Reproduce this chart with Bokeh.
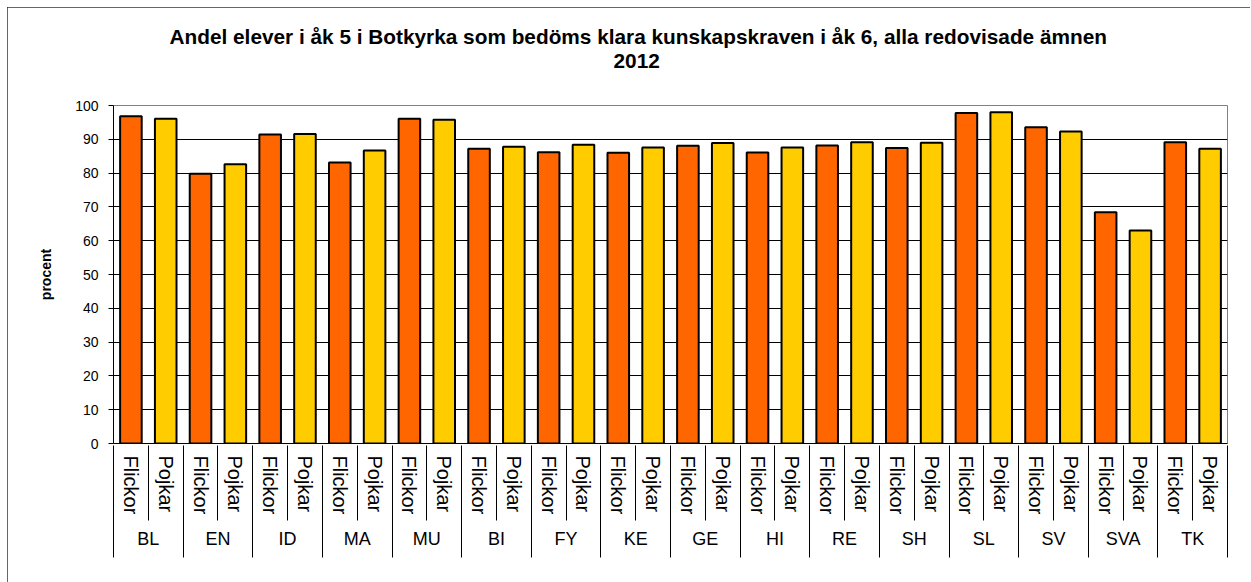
from bokeh.plotting import figure
from bokeh.models import (FactorRange, ColumnDataSource, LinearAxis, CategoricalAxis,
                          FixedTicker, Title, Range1d)
from bokeh.embed import file_html
from bokeh.resources import INLINE

# ---- data ----
subjects = ["BL", "EN", "ID", "MA", "MU", "BI", "FY", "KE", "GE", "HI",
            "RE", "SH", "SL", "SV", "SVA", "TK"]
genders = ["Flickor", "Pojkar"]
flickor = [96.8, 79.8, 91.4, 83.1, 96.1, 87.2, 86.2, 86.0, 88.1, 86.1,
           88.2, 87.4, 97.8, 93.6, 68.4, 89.1]
pojkar = [96.1, 82.6, 91.6, 86.7, 95.8, 87.8, 88.4, 87.6, 88.9, 87.6,
          89.1, 89.0, 98.0, 92.3, 63.0, 87.2]
y_ticks = [0, 10, 20, 30, 40, 50, 60, 70, 80, 90, 100]
title_line1 = "Andel elever i åk 5 i Botkyrka som bedöms klara kunskapskraven i åk 6, alla redovisade ämnen"
title_line2 = "2012"
y_label = "procent"
gender_colors = {"Flickor": "#FF6600", "Pojkar": "#FFCC00"}

FONT = "Liberation Sans"

factors = [(s, g) for s in subjects for g in genders]
values = [v for pair in zip(flickor, pojkar) for v in pair]
colors = [gender_colors[g] for s in subjects for g in genders]
src = ColumnDataSource(dict(x=factors, top=values, color=colors))

x_range = FactorRange(factors=factors, group_padding=0, factor_padding=0,
                      range_padding=0)

p = figure(width=1243, height=575, x_range=x_range, y_range=Range1d(0, 100),
           output_backend="svg", toolbar_location=None, x_axis_location=None,
           min_border_left=106, min_border_right=23, min_border_top=98,
           min_border_bottom=139)
p.margin = (7, 0, 0, 7)
p.styles = {"outline": "1px solid #333333", "outline-offset": "-1px"}

p.vbar(x="x", top="top", width=0.62, source=src, fill_color="color",
       line_color="#000000", line_width=2)

# titles: "2012" closest to the plot, main line above it
t2 = Title(text=title_line2, align="left", offset=500, standoff=75,
           vertical_align="bottom", text_font=FONT, text_font_size="20.8px",
           text_font_style="bold", text_color="#000000")
p.add_layout(t2, "above")
t1 = Title(text=title_line1, align="left", offset=56, standoff=-67,
           vertical_align="bottom", text_font=FONT, text_font_size="20.8px",
           text_font_style="bold", text_color="#000000")
p.add_layout(t1, "above")

# frame
p.outline_line_color = "#808080"
p.outline_line_width = 1
p.background_fill_color = "#FFFFFF"

# y axis
p.yaxis.ticker = FixedTicker(ticks=y_ticks)
p.yaxis.major_tick_in = 0
p.yaxis.major_tick_out = 5
p.yaxis.minor_tick_line_color = None
p.yaxis.axis_line_color = "#000000"
p.yaxis.major_tick_line_color = "#000000"
p.yaxis.major_label_text_font = FONT
p.yaxis.major_label_text_font_size = "14px"
p.yaxis.major_label_text_color = "#000000"
p.yaxis.major_label_standoff = 10
p.yaxis.axis_label = y_label
p.yaxis.axis_label_text_font = FONT
p.yaxis.axis_label_text_font_size = "14px"
p.yaxis.axis_label_text_font_style = "bold"
p.yaxis.axis_label_text_color = "#000000"
p.yaxis.axis_label_standoff = 18

p.xgrid.visible = False
p.ygrid.ticker = FixedTicker(ticks=y_ticks[1:-1])
p.ygrid.grid_line_color = "#000000"
p.ygrid.grid_line_width = 1

# x axis 1: category labels (Flickor/Pojkar and subject groups)
xa = CategoricalAxis(axis_line_color="#000000", major_tick_in=0, major_tick_out=0,
                     major_label_orientation="vertical", major_label_standoff=12,
                     major_label_text_font=FONT, major_label_text_font_size="20px",
                     major_label_text_color="#000000",
                     group_label_orientation="horizontal", group_text_font=FONT,
                     group_text_font_size="18px", group_text_font_style="normal",
                     group_text_color="#000000", separator_line_color=None)
p.add_layout(xa, "below")

# x axis 2: Excel-style category dividers, ticks reaching back up to the plot
n = len(subjects)
cat_axis_depth = 107
sep = LinearAxis(ticker=FixedTicker(ticks=[2 * i for i in range(n + 1)],
                                    minor_ticks=[2 * i + 1 for i in range(n)]),
                 axis_line_color=None,
                 major_tick_in=cat_axis_depth, major_tick_out=5,
                 minor_tick_in=cat_axis_depth, minor_tick_out=-32,
                 major_tick_line_color="#000000", minor_tick_line_color="#000000",
                 major_label_standoff=0, major_label_text_font_size="1px",
                 major_label_text_color=None)
p.add_layout(sep, "below")

open("out.html", "w").write(file_html(p, INLINE))
